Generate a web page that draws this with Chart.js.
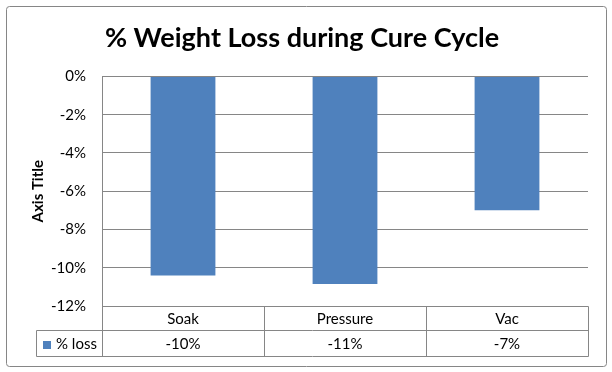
<!DOCTYPE html>
<html>
<head>
<meta charset="utf-8">
<script src="https://cdn.jsdelivr.net/npm/chart.js@4/dist/chart.umd.min.js"></script>
<style>
  html, body { margin: 0; padding: 0; background: #fff; }
  #wrap { width: 612px; height: 372px; }
</style>
</head>
<body>
<div id="wrap"><canvas id="c" width="612" height="372"></canvas></div>
<script>
const categories = ['Soak', 'Pressure', 'Vac'];
const lossValues = [-10.4, -10.85, -7.0];
const seriesName = '% loss';
const chartTitle = '% Weight Loss during Cure Cycle';
const yAxisTitle = 'Axis Title';
const yMin = -12, yMax = 0, yStep = 2;

const GRID = '#868686';
const BAR = '#4F81BD';
const FONT = 'Lato';

const frameAndTable = {
  id: 'frameAndTable',
  beforeDraw(chart) {
    const ctx = chart.ctx;
    ctx.save();
    ctx.fillStyle = '#fff';
    ctx.fillRect(0, 0, chart.width, chart.height);
    ctx.strokeStyle = GRID;
    ctx.lineWidth = 1;
    const x0 = 6.5, y0 = 6.5, x1 = 606.5, y1 = 366.5, r = 3;
    ctx.beginPath();
    ctx.moveTo(x0 + r, y0);
    ctx.arcTo(x1, y0, x1, y1, r);
    ctx.arcTo(x1, y1, x0, y1, r);
    ctx.arcTo(x0, y1, x0, y0, r);
    ctx.arcTo(x0, y0, x1, y0, r);
    ctx.closePath();
    ctx.stroke();
    ctx.restore();
  },
  afterDraw(chart) {
    const ctx = chart.ctx;
    const area = chart.chartArea;
    const xs = chart.scales.x;
    const n = categories.length;
    const step = n > 1 ? xs.getPixelForValue(1) - xs.getPixelForValue(0) : area.right - area.left;
    const top = Math.round(area.bottom) + 0.5;
    const mid = top + 24;
    const bot = mid + 26;
    const tableLeft = 36.5;
    const L = Math.round(area.left) + 0.5;
    const R = Math.round(area.right) + 0.5;
    ctx.save();
    ctx.strokeStyle = GRID;
    ctx.lineWidth = 1;
    ctx.beginPath();
    ctx.moveTo(L, top); ctx.lineTo(R, top);
    ctx.moveTo(tableLeft, mid); ctx.lineTo(R, mid);
    ctx.moveTo(tableLeft, bot); ctx.lineTo(R, bot);
    ctx.moveTo(tableLeft, mid); ctx.lineTo(tableLeft, bot);
    for (let i = 0; i <= n; i++) {
      const bx = Math.round(xs.getPixelForValue(0) - step / 2 + i * step) + 0.5;
      ctx.moveTo(bx, top); ctx.lineTo(bx, bot);
    }
    ctx.stroke();

    ctx.fillStyle = '#000';
    ctx.font = '15px ' + FONT;
    ctx.textAlign = 'center';
    ctx.textBaseline = 'middle';
    categories.forEach((c, i) => {
      const cx = xs.getPixelForValue(i);
      ctx.fillText(c, cx, (top + mid) / 2 + 1);
      ctx.fillText(Math.round(lossValues[i]) + '%', cx, (mid + bot) / 2 + 1);
    });
    ctx.fillStyle = BAR;
    ctx.fillRect(43, 341, 8, 8);
    ctx.fillStyle = '#000';
    ctx.textAlign = 'left';
    ctx.fillText(seriesName, 56, (mid + bot) / 2 + 1);
    ctx.restore();
  }
};

new Chart(document.getElementById('c'), {
  type: 'bar',
  data: {
    labels: categories,
    datasets: [{
      label: seriesName,
      data: lossValues,
      backgroundColor: BAR,
      borderWidth: 0,
      categoryPercentage: 0.4,
      barPercentage: 1.0
    }]
  },
  options: {
    responsive: false,
    animation: false,
    events: [],
    layout: { padding: { top: 0, left: 16, right: 24, bottom: 66 } },
    plugins: {
      legend: { display: false },
      tooltip: { enabled: false },
      title: {
        display: true,
        text: chartTitle,
        color: '#000',
        font: { family: FONT, size: 27, weight: 'bold' },
        padding: { top: 22, bottom: 22 }
      }
    },
    scales: {
      x: {
        display: false,
        grid: { display: false }
      },
      y: {
        min: yMin,
        max: yMax,
        afterFit(scale) { scale.width = 86; },
        ticks: {
          stepSize: yStep,
          padding: 16,
          color: '#000',
          font: { family: FONT, size: 15 },
          callback: v => v + '%'
        },
        grid: { color: GRID, lineWidth: 1, drawTicks: false },
        border: { display: true, color: GRID, width: 1 },
        title: {
          display: true,
          text: yAxisTitle,
          color: '#000',
          font: { family: FONT, size: 15, weight: 'bold' },
          padding: { top: 13, bottom: 0 }
        }
      }
    }
  },
  plugins: [frameAndTable]
});
</script>
</body>
</html>
